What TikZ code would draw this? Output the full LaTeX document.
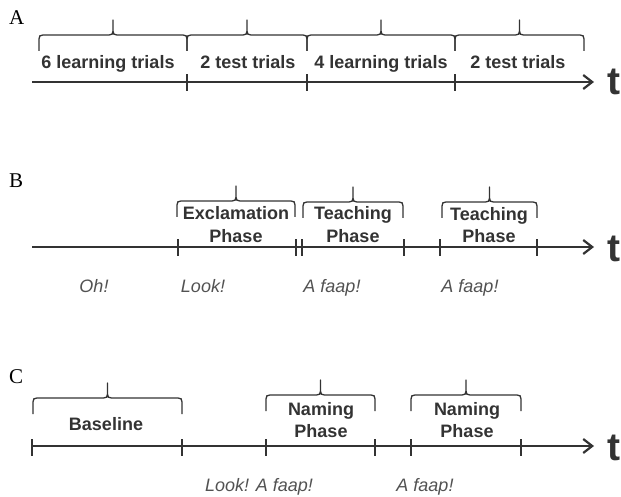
\documentclass[tikz,border=0pt]{standalone}
\usepackage{fontspec}
\setmainfont{Liberation Serif}
\setsansfont{Liberation Sans}
\usetikzlibrary{arrows.meta}
\definecolor{inkgray}{HTML}{333333}
\tikzset{timeline/.style={-{Straight Barb[length=9pt,width=14pt]}, line width=2.2pt, draw=inkgray}}
\tikzset{tickmark/.style={fill=inkgray, minimum width=1.6pt, minimum height=17pt, inner sep=0pt}}
\tikzset{phase/.style={font=\sffamily\bfseries\fontsize{18}{22}\selectfont, text=inkgray, align=center, anchor=base, inner sep=0pt}}
\tikzset{utter/.style={font=\sffamily\itshape\fontsize{18}{22}\selectfont, text=inkgray!85, anchor=base, inner sep=0pt}}
\tikzset{panel/.style={font=\fontsize{21}{24}\selectfont, anchor=base west, inner sep=0pt}}
\tikzset{timelabel/.style={font=\sffamily\bfseries\fontsize{39}{44}\selectfont, text=inkgray, anchor=base west, inner sep=0pt}}
\tikzset{pics/phasebrace/.style={code={
  \draw[line width=1.3pt, draw=inkgray, line join=round]
    ({-#1},16) -- ({-#1},4) .. controls ({-#1},1) and ({-#1+1},0) .. ({-#1+4},0)
    -- (-4,0) .. controls (-1,0) and (0,-1) .. (0,-4) -- (0,-15)
    -- (0,-4) .. controls (0,-1) and (1,0) .. (4,0)
    -- ({#1-4},0) .. controls ({#1-1},0) and ({#1},1) .. ({#1},4) -- ({#1},16);
}}}

\begin{document}
\begin{tikzpicture}[x=1pt, y=-1pt]
      \useasboundingbox (0,0) rectangle (621,497);

      \node[panel] (A) at (9,25) {A};
      \coordinate (A0) at (32,82);
      \coordinate (A1) at (594,82);
      \draw[timeline] (A0) -- (A1);
      \node[timelabel] (At) at (607,95) {t};
      \node[tickmark] (tA1) at (187,82.5) {};
      \node[tickmark] (tA2) at (307,82.5) {};
      \node[tickmark] (tA3) at (455,82.5) {};
      \pic at (113,35) {phasebrace=74};
      \pic at (247,35) {phasebrace=60};
      \pic at (381,35) {phasebrace=74};
      \pic at (519.5,35) {phasebrace=64.5};
      \node[phase] (learnA) at (108,68.5) {6 learning trials};
      \node[phase] (testA) at (248,68.5) {2 test trials};
      \node[phase] (learnB) at (381,68.5) {4 learning trials};
      \node[phase] (testB) at (518,68.5) {2 test trials};

      \node[panel] (B) at (9,188) {B};
      \coordinate (B0) at (32,247);
      \coordinate (B1) at (594,247);
      \draw[timeline] (B0) -- (B1);
      \node[timelabel] (Bt) at (607,261) {t};
      \node[tickmark] (tB1) at (178,247) {};
      \node[tickmark] (tB2) at (296,247) {};
      \node[tickmark] (tB3) at (302,247) {};
      \node[tickmark] (tB4) at (404,247) {};
      \node[tickmark] (tB5) at (440,247) {};
      \node[tickmark] (tB6) at (537,247) {};
      \pic at (236,201) {phasebrace=59};
      \pic at (353,202) {phasebrace=50};
      \pic at (489.5,202) {phasebrace=47.5};
      \node[phase] (excl) at (236,242) {Exclamation\\Phase};
      \node[phase] (teachA) at (353,242) {Teaching\\Phase};
      \node[phase] (teachB) at (489,243) {Teaching\\Phase};
      \node[utter] (oh) at (94,292) {Oh!};
      \node[utter] (lookB) at (203,292) {Look!};
      \node[utter] (faapA) at (332,292) {A faap!};
      \node[utter] (faapB) at (470,292) {A faap!};

      \node[panel] (C) at (9,383) {C};
      \coordinate (C0) at (32,446);
      \coordinate (C1) at (594,446);
      \draw[timeline] (C0) -- (C1);
      \node[timelabel] (Ct) at (607,460) {t};
      \node[tickmark] (tC0) at (32,447) {};
      \node[tickmark] (tC1) at (182,447) {};
      \node[tickmark] (tC2) at (266,447) {};
      \node[tickmark] (tC3) at (375,447) {};
      \node[tickmark] (tC4) at (411,447) {};
      \node[tickmark] (tC5) at (521,447) {};
      \pic at (107.5,398) {phasebrace=74.5};
      \pic at (320.5,395) {phasebrace=54.5};
      \pic at (466,395) {phasebrace=55};
      \node[phase] (base) at (106,430) {Baseline};
      \node[phase] (nameA) at (321,437) {Naming\\Phase};
      \node[phase] (nameB) at (467,437) {Naming\\Phase};
      \node[utter] (lookC) at (259,491) {Look! A faap!};
      \node[utter] (faapC) at (425,491) {A faap!};
    \end{tikzpicture}
\end{document}
